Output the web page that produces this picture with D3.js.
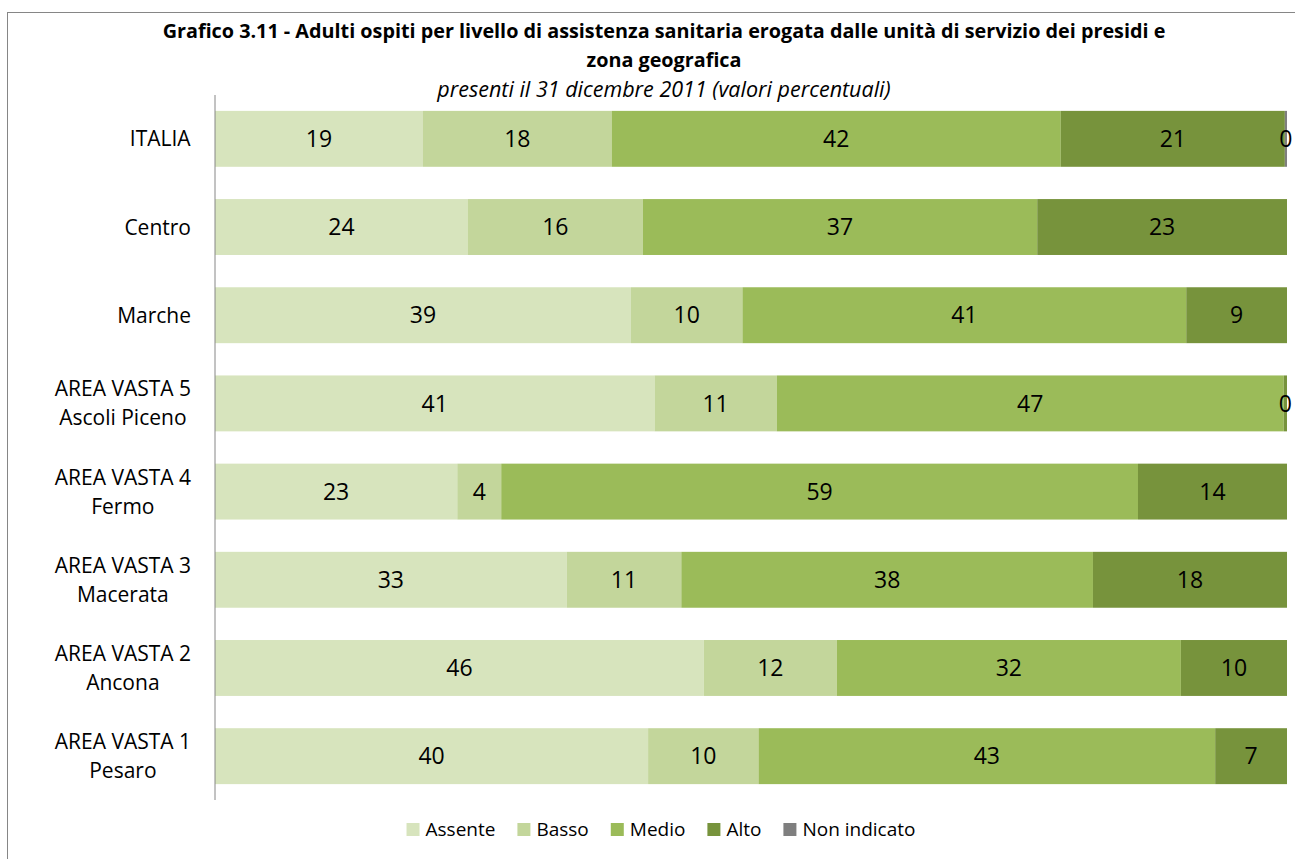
<!DOCTYPE html>
<html><head><meta charset="utf-8">
<script src="https://cdn.jsdelivr.net/npm/d3@7/dist/d3.min.js"></script>
<style>
html,body{margin:0;padding:0;background:#fff;}
svg{display:block;}
text{font-family:"Open Sans",Lato,sans-serif;fill:#000;}
</style></head>
<body>
<svg id="chart" width="1295" height="859"></svg>
<script>
const categories = ["ITALIA","Centro","Marche","AREA VASTA 5\nAscoli Piceno","AREA VASTA 4\nFermo","AREA VASTA 3\nMacerata","AREA VASTA 2\nAncona","AREA VASTA 1\nPesaro"];
const seriesNames = ["Assente","Basso","Medio","Alto","Non indicato"];
const assente     = [19.4, 23.6, 38.8, 41.0, 22.6, 32.8, 45.6, 40.4];
const basso       = [17.6, 16.3, 10.4, 11.4,  4.1, 10.7, 12.4, 10.3];
const medio       = [41.9, 36.8, 41.4, 47.3, 59.4, 38.4, 32.1, 42.6];
const alto        = [20.9, 23.3,  9.4,  0.3, 13.9, 18.1,  9.9,  6.7];
const nonIndicato = [ 0.2, null, null, null, null, null, null, null];
const colors = ["#d7e4bd","#c3d69b","#9bbb59","#77933c","#7f7f7f"];
const titleLines = ["Grafico 3.11 - Adulti ospiti per livello di assistenza sanitaria erogata dalle unità di servizio dei presidi e","zona geografica"];
const subtitle = "presenti il 31 dicembre 2011 (valori percentuali)";

const seriesValues = [assente, basso, medio, alto, nonIndicato];
const rows = categories.map((c,i)=>{
  const r = {cat:c};
  seriesNames.forEach((s,j)=>{ r[s] = seriesValues[j][i] == null ? 0 : seriesValues[j][i]; });
  return r;
});
const stacked = d3.stack().keys(seriesNames)(rows);

const svg = d3.select("#chart");
svg.append("rect").attr("x",7.5).attr("y",12.5).attr("width",1300).attr("height",860)
  .attr("fill","none").attr("stroke","#868686").attr("stroke-width",1);

const x = d3.scaleLinear().domain([0,100]).range([215,1287]);
const y = d3.scaleBand().domain(categories).range([95,800]).paddingInner(0.366).paddingOuter(0.18);

const cx = 664;
svg.append("text").attr("x",cx).attr("y",38).attr("text-anchor","middle")
  .style("font-weight","bold").style("font-size","19.8px").text(titleLines[0]);
svg.append("text").attr("x",cx).attr("y",67).attr("text-anchor","middle")
  .style("font-weight","bold").style("font-size","19.8px").text(titleLines[1]);
svg.append("text").attr("x",cx).attr("y",97).attr("text-anchor","middle")
  .style("font-style","italic").style("font-size","21.5px").text(subtitle);

const g = svg.append("g");
stacked.forEach((layer,j)=>{
  g.append("g").attr("fill",colors[j]).selectAll("rect").data(layer).join("rect")
    .attr("x",d=>x(d[0])).attr("y",(d,i)=>y(categories[i]))
    .attr("width",d=>Math.max(0,x(d[1])-x(d[0]))).attr("height",y.bandwidth());
});
stacked.forEach((layer,j)=>{
  layer.forEach((d,i)=>{
    const v = seriesValues[j][i];
    if(v==null) return;
    svg.append("text").attr("x",(x(d[0])+x(d[1]))/2).attr("y",y(categories[i])+y.bandwidth()/2)
      .attr("dy","0.36em").attr("text-anchor","middle").style("font-size","23px")
      .text(Math.round(v));
  });
});

const yAxis = svg.append("g").attr("transform","translate(215,0)")
  .call(d3.axisLeft(y).tickSize(0).tickFormat(""));
yAxis.select(".domain").attr("stroke","#868686").attr("d","M0,95V800");

categories.forEach(c=>{
  const lines = c.split("\n");
  const yc = y(c)+y.bandwidth()/2;
  const t = svg.append("text").attr("text-anchor","middle").style("font-size","21px");
  const lh = 29;
  lines.forEach((l,k)=>{
    t.append("tspan").attr("x",0).attr("y",yc + (k-(lines.length-1)/2)*lh).attr("dy","0.36em").text(l);
  });
  const w = t.node().getBBox().width;
  t.selectAll("tspan").attr("x",191 - w/2);
});

const lg = svg.append("g");
let lx = 0;
seriesNames.forEach((s,j)=>{
  const it = lg.append("g").attr("transform",`translate(${lx},0)`);
  it.append("rect").attr("x",0).attr("y",-6.5).attr("width",13).attr("height",13).attr("fill",colors[j]);
  const tt = it.append("text").attr("x",19).attr("y",0).attr("dy","0.36em").style("font-size","19px").text(s);
  lx += 19 + tt.node().getComputedTextLength() + 22;
});
const totalW = lx - 22;
lg.attr("transform",`translate(${661 - totalW/2},829.5)`);
</script>
</body></html>
